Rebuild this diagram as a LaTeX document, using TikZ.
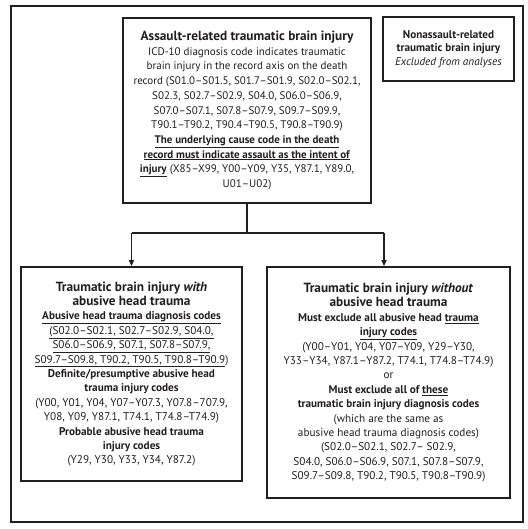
\documentclass[tikz,border=0pt]{standalone}
\usepackage{fontspec}
\setmainfont{PT Sans}
\usetikzlibrary{arrows.meta}
\definecolor{ink}{HTML}{231F20}
\begin{document}
\begin{tikzpicture}[x=1bp,y=-1bp,
  box/.style={draw=ink,line width=1.8bp,fill=white,inner sep=0pt,align=center,text=ink,
    font=\fontsize{11.2bp}{14.4bp}\selectfont},
  frame/.style={draw=ink,line width=1.5bp},
  conn/.style={draw=ink,line width=1.5bp},
  tip/.style={-{Triangle[length=6bp,width=5bp]}}]
\useasboundingbox (0,0) rectangle (528,529);
\fill[white] (0,0) rectangle (528,529);
\draw[frame] (11,6) rectangle (523,522);
\newcommand{\ttl}{\fontsize{13.3bp}{14.4bp}\selectfont\bfseries}
% top box
\node[box,minimum width=248bp,minimum height=185bp,font=\fontsize{11bp}{14.7bp}\selectfont] (top) at (247,110.5) {%
{\ttl Assault-related traumatic brain injury}\\
ICD-10 diagnosis code indicates traumatic\\
brain injury in the record axis on the death\\
record (S01.0–S01.5, S01.7–S01.9, S02.0–S02.1,\\
S02.3, S02.7–S02.9, S04.0, S06.0–S06.9,\\
S07.0–S07.1, S07.8–S07.9, S09.7–S09.9,\\
T90.1–T90.2, T90.4–T90.5, T90.8–T90.9)\\
\underline{\textbf{The underlying cause code in the death}}\\
\underline{\textbf{record must indicate assault as the intent of}}\\
\underline{\textbf{injury}} (X85–X99, Y00–Y09, Y35, Y87.1, Y89.0,\\
U01–U02)};
% nonassault box
\node[box,minimum width=131bp,minimum height=64bp,font=\fontsize{11.2bp}{13.6bp}\selectfont] (non) at (448.5,49) {%
\textbf{Nonassault-related}\\
\textbf{traumatic brain injury}\\
\textit{Excluded from analyses}};
% left box
\node[box,minimum width=221bp,minimum height=214bp] (left) at (131.5,374) {%
{\ttl Traumatic brain injury \textit{with}}\\
{\ttl abusive head trauma}\\
\underline{\textbf{Abusive head trauma diagnosis codes}}\\
\underline{(S02.0–S02.1, S02.7–S02.9, S04.0,}\\
\underline{S06.0–S06.9, S07.1, S07.8–S07.9,}\\
\underline{S09.7–S09.8, T90.2, T90.5, T90.8–T90.9})\\
\textbf{Definite/presumptive abusive head}\\
\textbf{trauma injury codes}\\
(Y00, Y01, Y04, Y07–Y07.3, Y07.8–707.9,\\
Y08, Y09, Y87.1, T74.1, T74.8–T74.9)\\
\textbf{Probable abusive head trauma}\\
\textbf{injury codes}\\
(Y29, Y30, Y33, Y34, Y87.2)};
% right box
\node[box,minimum width=243bp,minimum height=231bp] (right) at (388.5,382.5) {%
{\ttl Traumatic brain injury \textit{without}}\\
{\ttl abusive head trauma}\\
\textbf{Must exclude all abusive head \underline{trauma}}\\
\underline{\textbf{injury codes}}\\
(Y00–Y01, Y04, Y07–Y09, Y29–Y30,\\
Y33–Y34, Y87.1–Y87.2, T74.1, T74.8–T74.9)\\
or\\
\textbf{Must exclude all of \underline{these}}\\
\textbf{traumatic brain injury diagnosis codes}\\
(which are the same as\\
abusive head trauma diagnosis codes)\\
(S02.0–S02.1, S02.7– S02.9,\\
S04.0, S06.0–S06.9, S07.1, S07.8–S07.9,\\
S09.7–S09.8, T90.2, T90.5, T90.8–T90.9)};
% connectors
\coordinate (jL) at (131.5,233);
\coordinate (jR) at (384,233);
\draw[conn] (top.south) -- (top.south |- jL);
\draw[conn] (jL) -- (jR);
\draw[conn,tip] (jL) -- (left.north);
\draw[conn,tip] (jR) -- (jR |- right.north);
\end{tikzpicture}
\end{document}
